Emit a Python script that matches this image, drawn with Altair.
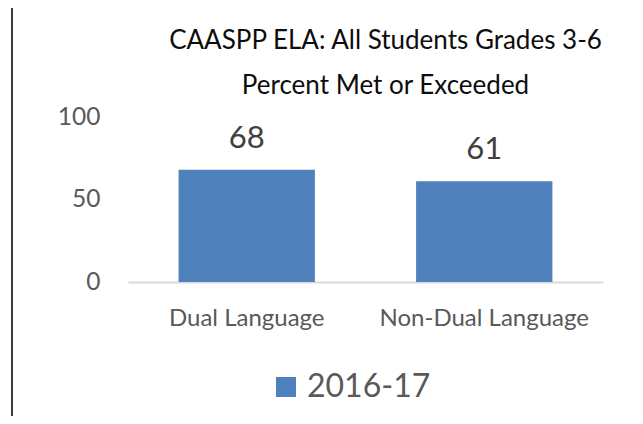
import altair as alt
import pandas as pd

categories = ["Dual Language", "Non-Dual Language"]
values = [68, 61]
series = ["2016-17", "2016-17"]
y_ticks = [0, 50, 100]
title_lines = ["CAASPP ELA: All Students Grades 3-6", "Percent Met or Exceeded"]

df = pd.DataFrame({"Category": categories, "Value": values, "Year": series})

FONT = "Lato"
GRAY = "#595959"

x_enc = alt.X(
    "Category:N",
    sort=categories,
    scale=alt.Scale(paddingInner=0.426, paddingOuter=0.213),
    axis=alt.Axis(
        title=None, labelAngle=0, ticks=False, tickSize=0, domainColor="#D9D9D9",
        domainWidth=2, labelFont=FONT, labelFontSize=24, labelColor=GRAY,
        labelPadding=43, labelBaseline="alphabetic", grid=False, labelLimit=400,
    ),
)
y_enc = alt.Y(
    "Value:Q",
    scale=alt.Scale(domain=[0, 100]),
    axis=alt.Axis(
        title=None, values=y_ticks, domain=False, ticks=False, tickSize=0, grid=False,
        labelFont=FONT, labelFontSize=24.5, labelColor=GRAY, labelPadding=28,
    ),
)

base = alt.Chart(df)

bars = base.mark_bar(color="#4F81BD").encode(
    x=x_enc,
    y=y_enc,
    color=alt.Color(
        "Year:N",
        scale=alt.Scale(range=["#4F81BD"]),
        legend=alt.Legend(
            title=None, orient="none", legendX=142, legendY=254, symbolType="square",
            symbolSize=400, symbolStrokeWidth=0, labelFont=FONT, labelFontSize=32,
            labelColor=GRAY, labelOffset=5, padding=0,
        ),
    ),
)

labels = base.mark_text(
    font=FONT, fontSize=31, color="#404040", baseline="alphabetic", dy=-22
).encode(x=alt.X("Category:N", sort=categories), y="Value:Q", text="Value:Q")

border = alt.Chart(alt.Data(values=[{"b": 1}])).mark_rule(
    color="#3C3C3C", strokeWidth=2
).encode(x=alt.value(-116), y=alt.value(-109), y2=alt.value(299))

chart = alt.layer(bars, labels, border).properties(
    width=475,
    height=165,
    autosize=alt.AutoSizeParams(type="none"),
    padding={"left": 120, "top": 109, "right": 32, "bottom": 134},
    title=alt.Title(
        title_lines, font=FONT, fontSize=26, fontWeight="normal", color="#0D0D0D",
        anchor="middle", frame="group", dx=20, dy=92, lineHeight=45, offset=0,
    ),
).configure_view(stroke=None)

chart.save("out.html", embed_options={"renderer": "svg", "actions": False})
